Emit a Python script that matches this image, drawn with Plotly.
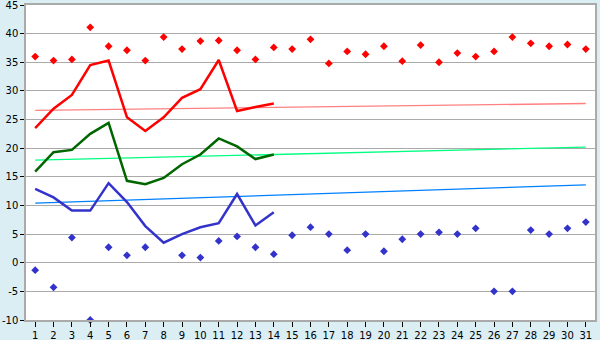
import plotly.graph_objects as go

days = list(range(1, 32))
y_ticks = list(range(-10, 50, 5))

red_points = [36.0, 35.3, 35.5, 41.1, 37.8, 37.1, 35.3, 39.4, 37.3, 38.7,
              38.8, 37.1, 35.5, 37.6, 37.3, 39.0, 34.8, 36.9, 36.4, 37.8,
              35.2, 38.0, 35.0, 36.6, 36.0, 36.9, 39.4, 38.3, 37.8, 38.1, 37.3]
blue_points = [-1.3, -4.3, 4.4, -10.0, 2.7, 1.3, 2.7, None, 1.3, 0.9,
               3.8, 4.6, 2.7, 1.5, 4.8, 6.2, 5.0, 2.2, 5.0, 2.0,
               4.1, 5.0, 5.3, 5.0, 6.0, -5.0, -5.0, 5.7, 5.0, 6.0, 7.1]

line_days = list(range(1, 15))
red_line = [23.5, 26.9, 29.3, 34.5, 35.3, 25.4, 23.0, 25.4, 28.8, 30.3, 35.4, 26.5, 27.2, 27.8]
green_line = [15.9, 19.3, 19.7, 22.5, 24.4, 14.3, 13.7, 14.8, 17.2, 18.9, 21.7, 20.3, 18.1, 18.9]
blue_line = [12.9, 11.4, 9.1, 9.1, 13.9, 10.6, 6.4, 3.5, 5.0, 6.2, 6.9, 12.0, 6.5, 8.8]

trend_days = [1, 31]
red_trend = [26.6, 27.8]
green_trend = [17.9, 20.2]
blue_trend = [10.4, 13.6]

fig = go.Figure()

fig.add_trace(go.Scatter(x=trend_days, y=red_trend, mode="lines",
                         line=dict(color="#FF8080", width=1.3)))
fig.add_trace(go.Scatter(x=trend_days, y=green_trend, mode="lines",
                         line=dict(color="#00FF80", width=1.3)))
fig.add_trace(go.Scatter(x=trend_days, y=blue_trend, mode="lines",
                         line=dict(color="#0080FF", width=1.3)))

fig.add_trace(go.Scatter(x=line_days, y=red_line, mode="lines",
                         line=dict(color="#FF0000", width=2.5)))
fig.add_trace(go.Scatter(x=line_days, y=green_line, mode="lines",
                         line=dict(color="#006600", width=2.5)))
fig.add_trace(go.Scatter(x=line_days, y=blue_line, mode="lines",
                         line=dict(color="#3333CC", width=2.5)))

fig.add_trace(go.Scatter(x=days, y=red_points, mode="markers", cliponaxis=False,
                         marker=dict(symbol="diamond", size=6, color="#FF0000")))
fig.add_trace(go.Scatter(x=days, y=blue_points, mode="markers", cliponaxis=False,
                         marker=dict(symbol="diamond", size=6, color="#3333CC")))

fig.update_layout(
    width=600, height=340,
    margin=dict(l=26, r=5, t=5, b=20),
    paper_bgcolor="#DAEEF4",
    plot_bgcolor="#FFFFFF",
    showlegend=False,
    font=dict(family="DejaVu Sans", size=10, color="#000000"),
)
fig.update_xaxes(range=[0.5, 31.5], tickmode="array", tickvals=days,
                 ticktext=[str(d) for d in days], showgrid=False, zeroline=False,
                 automargin=False, ticklabeloverflow="allow",
                 showline=True, linecolor="#AAAAAA", linewidth=1.5, mirror=True,
                 ticks="outside", ticklen=5, tickcolor="#000000", tickwidth=1,
                 tickfont=dict(size=10, color="#000000"))
fig.update_yaxes(range=[-10, 45], tickmode="array", tickvals=y_ticks,
                 ticktext=[str(v) for v in y_ticks],
                 showgrid=True, gridcolor="#AAAAAA",
                 gridwidth=1.2, zeroline=False, automargin=False,
                 ticklabeloverflow="allow",
                 showline=True, linecolor="#AAAAAA", linewidth=1.5, mirror=True,
                 ticks="outside", ticklen=4, tickcolor="#000000", tickwidth=1,
                 tickfont=dict(size=10, color="#000000"))

fig.write_html("out.html")
